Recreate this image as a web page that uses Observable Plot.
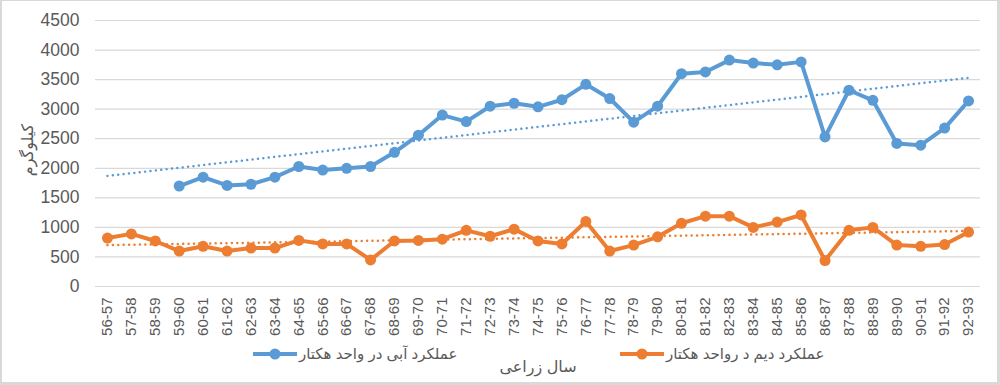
<!DOCTYPE html>
<html>
<head>
<meta charset="utf-8">
<script src="https://cdn.jsdelivr.net/npm/d3@7"></script>
<script src="https://cdn.jsdelivr.net/npm/@observablehq/plot@0.6"></script>
<style>
  html, body { margin: 0; padding: 0; background: #fff; }
  #wrap { position: relative; width: 1000px; height: 385px; overflow: hidden; font-family: "Liberation Sans", "DejaVu Sans", sans-serif; color: #595959; }
  #chart { position: absolute; left: 0; top: 0; }
  #frame { position: absolute; left: 0; top: 0; width: 1000px; height: 385px; box-sizing: border-box; border-style: solid; border-color: #d9d9d9; border-width: 1px 3px 3px 2px; pointer-events: none; }
  .leg { position: absolute; display: flex; align-items: center; height: 14px; }
  .leg span { font-size: 15px; white-space: nowrap; line-height: 14px; }
  #xtitle { position: absolute; left: 438px; width: 200px; top: 357px; text-align: center; font-size: 16px; }
  #ytitle { position: absolute; left: 27px; top: 150px; transform: translate(-50%, -50%) rotate(-90deg); font-size: 16px; white-space: nowrap; }
</style>
</head>
<body>
<div id="wrap">
  <div id="chart"></div>
  <div id="legend"></div>
  <div id="xtitle" dir="rtl">سال زراعی</div>
  <div id="ytitle" dir="rtl">کیلوگرم</div>
  <div id="frame"></div>
</div>
<script>
const years = ["56-57","57-58","58-59","59-60","60-61","61-62","62-63","63-64","64-65","65-66","66-67","67-68","68-69","69-70","70-71","71-72","72-73","73-74","74-75","75-76","76-77","77-78","78-79","79-80","80-81","81-82","82-83","83-84","84-85","85-86","86-87","87-88","88-89","89-90","90-91","91-92","92-93"];
const irrigated = [null,null,null,1700,1850,1710,1730,1850,2030,1970,2000,2030,2270,2560,2900,2790,3050,3100,3040,3160,3420,3180,2780,3050,3600,3630,3830,3780,3750,3800,2530,3320,3150,2420,2390,2680,3140];
const rainfed = [820,890,770,600,680,600,650,650,780,720,720,450,770,780,800,950,850,970,770,720,1100,600,700,840,1070,1190,1190,1000,1090,1210,440,950,1000,700,680,710,920];
const trendYears = ["56-57","92-93"];
const irrigatedTrend = [1870,3530];
const rainfedTrend = [700,940];
const yTicks = [0,500,1000,1500,2000,2500,3000,3500,4000,4500];
const seriesNames = ["عملکرد آبی در واحد هکتار","عملکرد دیم د رواحد هکتار"];
const colors = ["#5B9BD5","#ED7D31"];

const irrData = years.map((y,i) => ({year:y, v:irrigated[i]}));
const rainData = years.map((y,i) => ({year:y, v:rainfed[i]}));
const irrTrendData = trendYears.map((y,i) => ({year:y, v:irrigatedTrend[i]}));
const rainTrendData = trendYears.map((y,i) => ({year:y, v:rainfedTrend[i]}));

const chart = Plot.plot({
  width: 1000,
  height: 385,
  marginLeft: 95,
  marginRight: 20,
  marginTop: 20,
  marginBottom: 99,
  style: { fontFamily: '"Liberation Sans", "DejaVu Sans", sans-serif', color: "#595959", background: "transparent" },
  x: { type: "point", domain: years, padding: 0.5, label: null },
  y: { domain: [0,4500], label: null },
  marks: [
    Plot.ruleY(yTicks, { stroke: "#d9d9d9", strokeWidth: 1.2 }),
    Plot.axisY({ ticks: yTicks, tickFormat: d => String(d), tickSize: 0, tickPadding: 16, fontSize: 17.5, label: null }),
    Plot.axisX({ tickSize: 0, tickPadding: 11, tickRotate: -90, fontSize: 15, label: null }),
    Plot.line(irrTrendData, { x: "year", y: "v", stroke: colors[0], strokeWidth: 2.5, strokeLinecap: "round", strokeDasharray: "0.01,5.4" }),
    Plot.line(rainTrendData, { x: "year", y: "v", stroke: colors[1], strokeWidth: 2.5, strokeLinecap: "round", strokeDasharray: "0.01,5.4" }),
    Plot.line(irrData, { x: "year", y: "v", stroke: colors[0], strokeWidth: 4, strokeLinejoin: "round" }),
    Plot.dot(irrData.filter(d => d.v != null), { x: "year", y: "v", r: 5.5, fill: colors[0], stroke: null }),
    Plot.line(rainData, { x: "year", y: "v", stroke: colors[1], strokeWidth: 4, strokeLinejoin: "round" }),
    Plot.dot(rainData, { x: "year", y: "v", r: 5.5, fill: colors[1], stroke: null })
  ]
});
document.getElementById("chart").appendChild(chart);

const legend = document.getElementById("legend");
const legendLeft = [253, 620];
seriesNames.forEach((name, i) => {
  const item = document.createElement("div");
  item.className = "leg";
  item.style.left = legendLeft[i] + "px";
  item.style.top = "347px";
  item.innerHTML = `<svg width="45" height="14"><line x1="0" y1="7" x2="44" y2="7" stroke="${colors[i]}" stroke-width="4"/><circle cx="22" cy="7" r="5.5" fill="${colors[i]}"/></svg><span dir="rtl" style="margin-left:1px">${name}</span>`;
  legend.appendChild(item);
});
</script>
</body>
</html>
